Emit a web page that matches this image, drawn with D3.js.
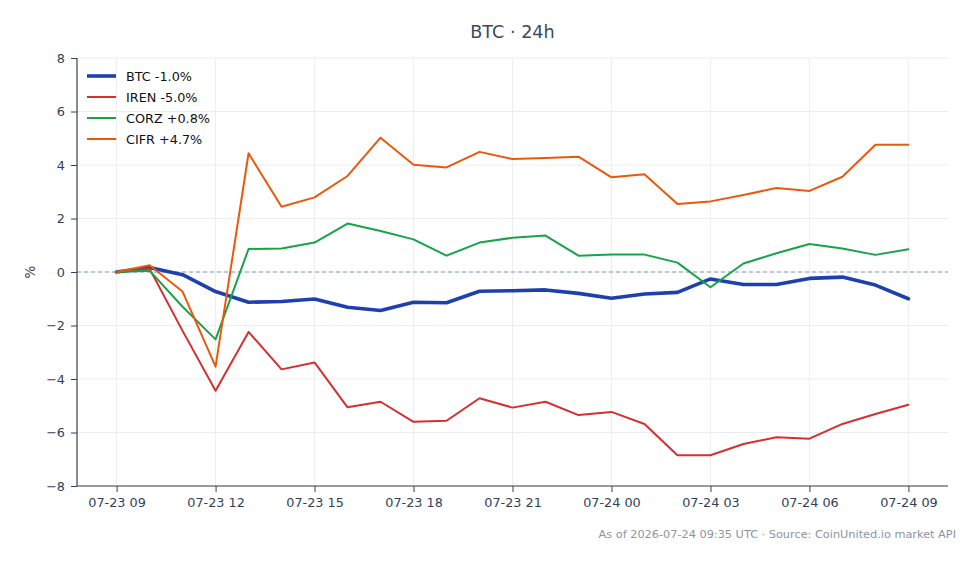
<!DOCTYPE html>
<html>
<head>
<meta charset="utf-8">
<script src="https://cdn.jsdelivr.net/npm/d3@7"></script>
<style>
body { margin: 0; background: #ffffff; }
.font { font-family: "DejaVu Sans", sans-serif; }
.axis text { fill: #334155; font-size: 12.8px; }
.axis path, .axis line { stroke: #334155; }
</style>
</head>
<body>
<svg id="chart" width="980" height="564"></svg>
<script>
const SVG_WIDTH = 980;
const SVG_HEIGHT = 564;
const PLOT_TITLE_TXT = "BTC · 24h";
const FOOTER_TXT = "As of 2026-07-24 09:35 UTC · Source: CoinUnited.io market API";

// hourly, 07-23 09:00 to 07-24 09:00 UTC
const START_TIME = Date.UTC(2026, 6, 23, 9);
const hours = d3.range(25).map(function(h) {
    return new Date(START_TIME + h * 3600 * 1000);
});

const btcValues = [0, 0.17, -0.1, -0.73, -1.13, -1.1, -1.01, -1.32, -1.44, -1.13, -1.15,
    -0.72, -0.7, -0.67, -0.8, -0.98, -0.82, -0.76, -0.26, -0.47, -0.47, -0.24, -0.19, -0.49, -1.0];
const irenValues = [0, 0.12, -2.2, -4.44, -2.24, -3.64, -3.38, -5.06, -4.85, -5.6, -5.56,
    -4.72, -5.07, -4.85, -5.35, -5.23, -5.68, -6.85, -6.85, -6.43, -6.18, -6.23, -5.68, -5.31, -4.96];
const corzValues = [0, 0.05, -1.3, -2.52, 0.86, 0.88, 1.1, 1.81, 1.53, 1.22, 0.61,
    1.1, 1.28, 1.36, 0.61, 0.65, 0.65, 0.35, -0.57, 0.32, 0.7, 1.05, 0.88, 0.64, 0.85];
const cifrValues = [0, 0.25, -0.73, -3.54, 4.44, 2.44, 2.79, 3.59, 5.02, 4.01, 3.91,
    4.49, 4.22, 4.26, 4.31, 3.54, 3.65, 2.54, 2.64, 2.88, 3.14, 3.03, 3.56, 4.76, 4.76];

const seriesNames = ["BTC", "IREN", "CORZ", "CIFR"];
const seriesLabels = ["BTC -1.0%", "IREN -5.0%", "CORZ +0.8%", "CIFR +4.7%"];
const seriesColors = ["#1e40af", "#d62f2f", "#17a34a", "#e8590c"];
const seriesWidths = [3.6, 2, 2, 2];
const seriesValues = [btcValues, irenValues, corzValues, cifrValues];

const yTicks = [-8, -6, -4, -2, 0, 2, 4, 6, 8];

const PLOT_LEFT = 77;
const PLOT_RIGHT = 948;
const PLOT_TOP = 58;
const PLOT_BOTTOM = 486;

var svg = d3.select("#chart");

// 5% padding on the time axis
var pad = (hours[24] - hours[0]) * 0.05;
var xScale = d3.scaleUtc()
    .domain([new Date(+hours[0] - pad), new Date(+hours[24] + pad)])
    .range([PLOT_LEFT, PLOT_RIGHT]);
var yScale = d3.scaleLinear()
    .domain([-8, 8])
    .range([PLOT_BOTTOM, PLOT_TOP]);

var xTickValues = hours.filter(function(d, i) { return i % 3 === 0; });

// grid
var grid = svg.append("g");
grid.selectAll(".hgrid")
    .data(yTicks)
    .enter()
    .append("line")
    .attr("x1", PLOT_LEFT)
    .attr("x2", PLOT_RIGHT)
    .attr("y1", function(d) { return yScale(d); })
    .attr("y2", function(d) { return yScale(d); })
    .attr("stroke", "#e6e9ef")
    .attr("stroke-width", 0.8);
grid.selectAll(".vgrid")
    .data(xTickValues)
    .enter()
    .append("line")
    .attr("x1", function(d) { return xScale(d); })
    .attr("x2", function(d) { return xScale(d); })
    .attr("y1", PLOT_TOP)
    .attr("y2", PLOT_BOTTOM)
    .attr("stroke", "#e6e9ef")
    .attr("stroke-width", 0.8);

// zero line
svg.append("line")
    .attr("x1", PLOT_LEFT)
    .attr("x2", PLOT_RIGHT)
    .attr("y1", yScale(0))
    .attr("y2", yScale(0))
    .attr("stroke", "#8a98b4")
    .attr("stroke-width", 1)
    .attr("stroke-dasharray", "4,3");

// axes
var yAxis = d3.axisLeft(yScale)
    .tickValues(yTicks)
    .tickSize(6)
    .tickPadding(6)
    .tickFormat(function(d) { return d < 0 ? "\u2212" + Math.abs(d) : d; });
svg.append("g")
    .classed("axis font", true)
    .attr("transform", "translate(" + PLOT_LEFT + ",0)")
    .call(yAxis)
    .call(function(g) { g.select(".domain").attr("d", "M0," + PLOT_TOP + "V" + PLOT_BOTTOM); });

var xAxis = d3.axisBottom(xScale)
    .tickValues(xTickValues)
    .tickSize(6)
    .tickPadding(6)
    .tickFormat(d3.utcFormat("%m-%d %H"));
svg.append("g")
    .classed("axis font", true)
    .attr("transform", "translate(0," + PLOT_BOTTOM + ")")
    .call(xAxis)
    .call(function(g) { g.select(".domain").attr("d", "M" + PLOT_LEFT + ",0H" + PLOT_RIGHT); });

svg.selectAll(".axis .domain").attr("stroke-width", 1.2);

// y label
svg.append("text")
    .classed("font", true)
    .attr("transform", "translate(35," + yScale(0) + ") rotate(-90)")
    .attr("text-anchor", "middle")
    .attr("fill", "#334155")
    .attr("font-size", 13.5)
    .text("%");

// lines
var lineGroup = svg.append("g");
for (var i = 0; i < seriesNames.length; i++) {
    var values = seriesValues[i];
    var line = d3.line()
        .x(function(d, j) { return xScale(hours[j]); })
        .y(function(d) { return yScale(d); });
    lineGroup.append("path")
        .datum(values)
        .attr("fill", "none")
        .attr("stroke", seriesColors[i])
        .attr("stroke-width", seriesWidths[i])
        .attr("stroke-linejoin", "round")
        .attr("stroke-linecap", "round")
        .attr("d", line);
}

// legend
var legend = svg.append("g")
    .attr("transform", "translate(87,76)");
var legendItem = legend.selectAll("g")
    .data(seriesNames)
    .enter()
    .append("g")
    .attr("transform", function(d, i) { return "translate(0," + (i * 21) + ")"; });
legendItem.append("line")
    .attr("x1", 0)
    .attr("x2", 29)
    .attr("stroke", function(d, i) { return seriesColors[i]; })
    .attr("stroke-width", function(d, i) { return seriesWidths[i]; });
legendItem.append("text")
    .classed("font", true)
    .attr("x", 39)
    .attr("dominant-baseline", "central")
    .attr("font-size", 12.8)
    .attr("fill", "#111111")
    .text(function(d, i) { return seriesLabels[i]; });

// title
svg.append("text")
    .classed("font", true)
    .attr("x", (PLOT_LEFT + PLOT_RIGHT) / 2)
    .attr("y", 38)
    .attr("text-anchor", "middle")
    .attr("font-size", 17.6)
    .attr("fill", "#3b4a5e")
    .text(PLOT_TITLE_TXT);

// footer
svg.append("text")
    .classed("font", true)
    .attr("x", 956)
    .attr("y", 538)
    .attr("text-anchor", "end")
    .attr("font-size", 11.3)
    .attr("fill", "#8a94a3")
    .text(FOOTER_TXT);
</script>
</body>
</html>
